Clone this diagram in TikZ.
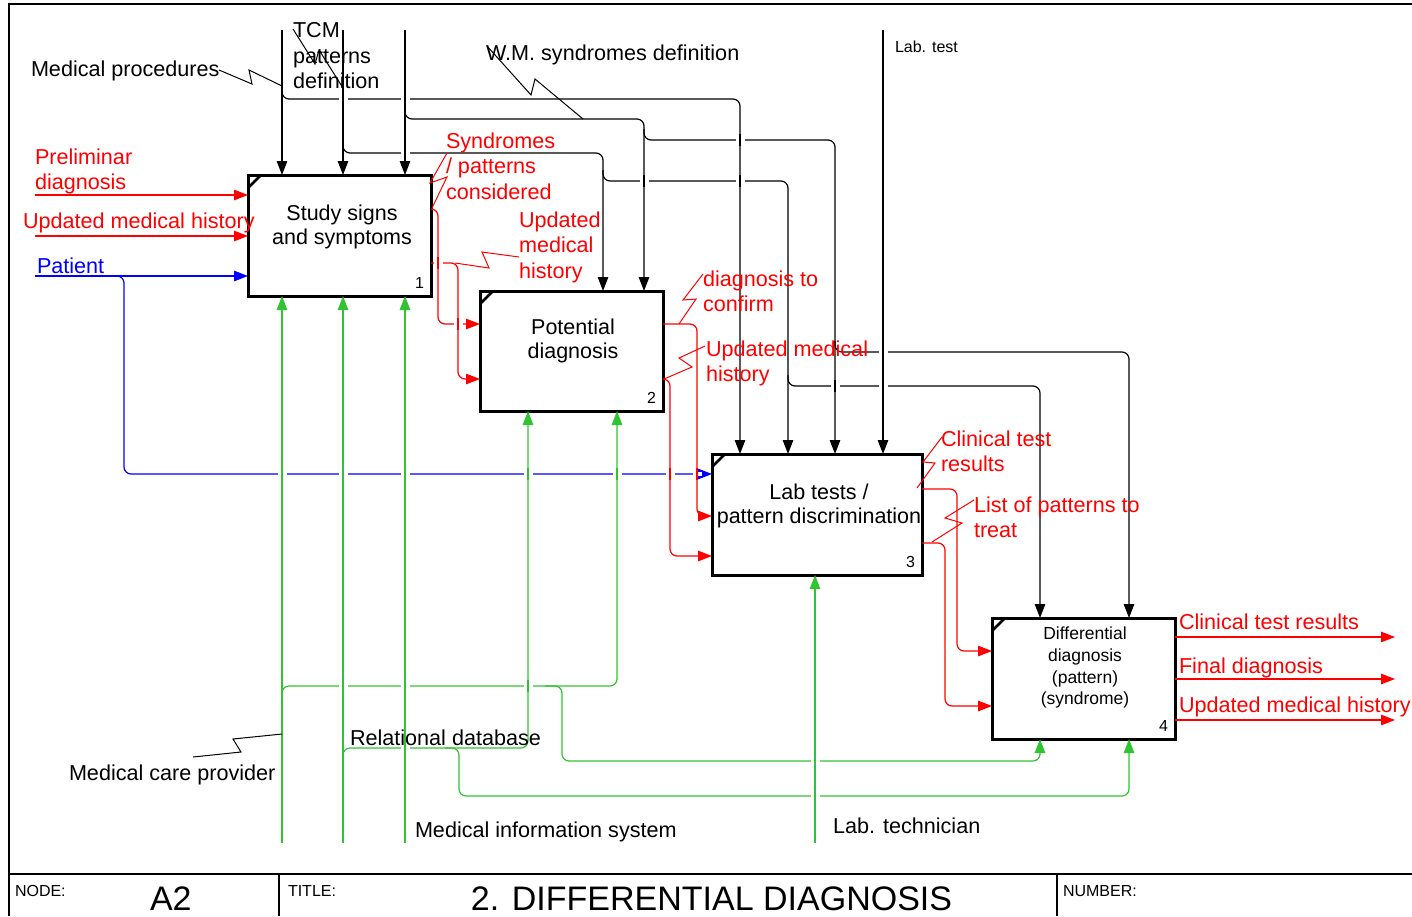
\documentclass[tikz,border=0pt]{standalone}
\usepackage{fontspec}
\setmainfont{Liberation Sans}
\usetikzlibrary{arrows.meta}
\definecolor{ired}{RGB}{255,0,0}
\definecolor{iblue}{RGB}{0,0,255}
\definecolor{igreen}{RGB}{50,195,50}
\newcommand\xgap[3]{%
  \fill[white] ({#1-4.5},{#2-2.4}) rectangle ({#1+4.5},{#2+2.4});
  \draw[#3,line width=1.2pt] (#1,{#2-6}) -- (#1,{#2+6});}
\begin{document}
\begin{tikzpicture}[x=1pt,y=-1pt,
  every node/.style={inner sep=0pt,outer sep=0pt},
  box/.style={draw,line width=3pt,anchor=north west,minimum height=121pt},
  tick/.style={line width=2.6pt},
  num/.style={anchor=base east,font=\fontsize{16}{16}\selectfont},
  boxtxt/.style={anchor=north,align=center,font=\fontsize{21.5}{24}\selectfont},
  lbl/.style={anchor=base west,font=\fontsize{21.6}{25.5}\selectfont},
  mlbl/.style={anchor=north west,align=left,font=\fontsize{21.6}{25.5}\selectfont},
  small/.style={anchor=base west,font=\fontsize{16}{16}\selectfont},
  big/.style={font=\fontsize{34}{34}\selectfont},
  conn/.style={line width=1.2pt,rounded corners=7pt,-{Triangle[length=14pt,width=10.5pt]}},
  ctrl/.style={conn,draw=black},
  flow/.style={conn,draw=ired},
  mech/.style={conn,draw=igreen},
  pat/.style={conn,draw=iblue},
  lead/.style={line width=1pt},
  frame/.style={line width=1.5pt}
]
\useasboundingbox (0,0) rectangle (1412,916);

% frame and title band
\draw[frame] (1412,4) -- (9,4) -- (9,916);
\draw[frame] (9,874) -- (1412,874);
\draw[frame] (279,874) -- (279,916);
\draw[frame] (1057,874) -- (1057,916);
\node[small] (tnode) at (15,896) {NODE:};
\node[big,anchor=base west] (tA2) at (150,910) {A2};
\node[small] (ttitle) at (288,896) {TITLE:};
\node[big,anchor=base] (tname) at (711.5,910) {2. DIFFERENTIAL DIAGNOSIS};
\node[small] (tnum) at (1063,896) {NUMBER:};

% boxes
\node[box,minimum width=183pt] (b1) at (248,175) {};
\node[box,minimum width=183pt,minimum height=120pt] (b2) at (480,291) {};
\node[box,minimum width=210pt] (b3) at (712,454) {};
\node[box,minimum width=183pt] (b4) at (992,618) {};
\foreach \b in {b1,b2,b3,b4}
  \draw[tick] ([yshift=-13pt]\b.north west) -- ([xshift=13pt]\b.north west);
\node[num] (n1) at ([xshift=-7pt,yshift=8pt]b1.south east) {1};
\node[num] (n2) at ([xshift=-7pt,yshift=8pt]b2.south east) {2};
\node[num] (n3) at ([xshift=-7pt,yshift=8pt]b3.south east) {3};
\node[num] (n4) at ([xshift=-7pt,yshift=8pt]b4.south east) {4};
\node[boxtxt] (b1t) at (342,204.5) {Study signs\\and symptoms};
\node[boxtxt] (b2t) at (573,318.5) {Potential\\diagnosis};
\node[boxtxt] (b3t) at (819,483.5) {Lab tests /\\pattern discrimination};
\node[boxtxt,font=\fontsize{17.5}{21.7}\selectfont] (b4t) at (1085,627) {Differential\\diagnosis\\(pattern)\\(syndrome)};

% column coordinates
\path (282,30) coordinate (tMP) (343,30) coordinate (tTCM) (405,30) coordinate (tWM) (883,30) coordinate (tLab)
      (282,843) coordinate (gMC) (343,843) coordinate (gRD) (405,843) coordinate (gMIS) (815,843) coordinate (gLT)
      (35,195) coordinate (iPD) (35,236) coordinate (iUMH) (35,276) coordinate (iPat)
      (528,0) coordinate (x528) (603,0) coordinate (x603) (617,0) coordinate (x617) (644,0) coordinate (x644)
      (740,0) coordinate (x740) (788,0) coordinate (x788) (835,0) coordinate (x835)
      (1040,0) coordinate (x1040) (1129,0) coordinate (x1129)
      (1395,0) coordinate (xout);

% controls (black)
\draw[ctrl] (tMP) -- (tMP |- b1.north);
\draw[ctrl] (tTCM) -- (tTCM |- b1.north);
\draw[ctrl] (tWM) -- (tWM |- b1.north);
\draw[ctrl] (tLab) -- (tLab |- b3.north);
\draw[ctrl] (282,85) -- (282,99) -- (740,99) -- (x740 |- b3.north);
\draw[ctrl] (343,143) -- (343,153) -- (603,153) -- (x603 |- b2.north);
\draw[ctrl] (603,170) -- (603,181) -- (788,181) -- (x788 |- b3.north);
\draw[ctrl] (788,375) -- (788,386) -- (1040,386) -- (x1040 |- b4.north);
\draw[ctrl] (405,108) -- (405,119) -- (644,119) -- (x644 |- b2.north);
\draw[ctrl] (644,129) -- (644,140) -- (835,140) -- (x835 |- b3.north);
\draw[ctrl] (835,341) -- (835,352) -- (1129,352) -- (x1129 |- b4.north);

% inputs
\draw[flow] (iPD) -- (iPD -| b1.west);
\draw[flow] (iUMH) -- (iUMH -| b1.west);
\draw[pat] (iPat) -- (iPat -| b1.west);
\draw[pat] (110,276) -- (124,276) -- (124,474) -- ([yshift=-20pt]b3.north west);

% internal flows
\draw[flow] ([yshift=-34pt]b1.north east) -- (438,209) -- (438,324) -- ([yshift=-33pt]b2.north west);
\draw[flow] ([yshift=-88pt]b1.north east) -- (458,263) -- (458,379) -- ([yshift=-88pt]b2.north west);
\draw[flow] ([yshift=-33pt]b2.north east) -- (697,324) -- (697,516) -- ([yshift=-62pt]b3.north west);
\draw[flow] ([yshift=-88pt]b2.north east) -- (670,379) -- (670,556) -- ([yshift=-102pt]b3.north west);
\draw[flow] ([yshift=-35pt]b3.north east) -- (957,489) -- (957,651) -- ([yshift=-33pt]b4.north west);
\draw[flow] ([yshift=-89pt]b3.north east) -- (945,543) -- (945,706) -- ([yshift=-88pt]b4.north west);

% outputs
\draw[flow] ([yshift=-19pt]b4.north east) -- ([yshift=-19pt]b4.north east -| xout);
\draw[flow] ([yshift=-61pt]b4.north east) -- ([yshift=-61pt]b4.north east -| xout);
\draw[flow] ([yshift=-102pt]b4.north east) -- ([yshift=-102pt]b4.north east -| xout);

% mechanisms (green)
\draw[mech] (gMC) -- (gMC |- b1.south);
\draw[mech] (gRD) -- (gRD |- b1.south);
\draw[mech] (gMIS) -- (gMIS |- b1.south);
\draw[mech] (gLT) -- (gLT |- b3.south);
\draw[mech] (282,700) -- (282,686) -- (617,686) -- (x617 |- b2.south);
\draw[mech] (545,686) -- (562,686) -- (562,761) -- (1040,761) -- (x1040 |- b4.south);
\draw[mech] (343,760) -- (343,748) -- (528,748) -- (x528 |- b2.south);
\draw[mech] (445,748) -- (459,748) -- (459,796) -- (1129,796) -- (x1129 |- b4.south);

% crossing gaps
\xgap{343}{99}{black}\xgap{405}{99}{black}\xgap{740}{140}{black}\xgap{405}{153}{black}
\xgap{644}{181}{black}\xgap{740}{181}{black}\xgap{883}{352}{black}\xgap{835}{386}{black}\xgap{883}{386}{black}
\xgap{438}{263}{ired}\xgap{458}{324}{ired}
\xgap{282}{474}{igreen}\xgap{343}{474}{igreen}\xgap{405}{474}{igreen}\xgap{528}{474}{igreen}\xgap{617}{474}{igreen}
\xgap{670}{474}{ired}\xgap{697}{474}{ired}
\xgap{343}{686}{igreen}\xgap{405}{686}{igreen}\xgap{528}{686}{igreen}\xgap{405}{748}{igreen}
\xgap{815}{761}{igreen}\xgap{815}{796}{igreen}

% leaders
\draw[lead] (219,70) -- (252,84) -- (249,70) -- (282,86);
\draw[lead] (293,29) -- (315,64) -- (319,50) -- (343,88);
\draw[lead] (487,46) -- (531,95) -- (535,79) -- (583,119);
\draw[lead] (193,757) -- (241,752) -- (233,739) -- (282,734);
\draw[lead,ired] (447,153) -- (430,183) -- (447,177) -- (432,208);
\draw[lead,ired] (519,257) -- (482,252) -- (489,268) -- (455,263);
\draw[lead,ired] (703,274) -- (683,300) -- (696,299) -- (679,324);
\draw[lead,ired] (705,346) -- (679,358) -- (692,367) -- (664,379);
\draw[lead,ired] (942,437) -- (923,462) -- (935,463) -- (917,488);
\draw[lead,ired] (974,500) -- (945,518) -- (962,523) -- (932,542);

% labels
\node[lbl] (lMP) at (31,76) {Medical procedures};
\node[mlbl] (lTCM) at (293,22.5) {TCM\\patterns\\definition};
\node[lbl] (lWM) at (486,60) {W.M. syndromes definition};
\node[small] (lLab) at (895,52) {Lab. test};
\node[mlbl,text=ired] (lPD) at (35,148.5) {Preliminar\\diagnosis};
\node[lbl,text=ired] (lUMH) at (23,228) {Updated medical history};
\node[lbl,text=iblue] (lPat) at (37,273) {Patient};
\node[mlbl,text=ired] (lSP) at (446,132.5) {Syndromes\\/ patterns\\considered};
\node[mlbl,text=ired] (lU1) at (519,211.5) {Updated\\medical\\history};
\node[mlbl,text=ired] (lDC) at (703,270.5) {diagnosis to\\confirm};
\node[mlbl,text=ired] (lU2) at (706,340.5) {Updated medical\\history};
\node[mlbl,text=ired] (lCT) at (941,430.5) {Clinical test\\results};
\node[mlbl,text=ired] (lLP) at (974,496.5) {List of patterns to\\treat};
\node[lbl,text=ired] (oCT) at (1179,629) {Clinical test results};
\node[lbl,text=ired] (oFD) at (1179,673) {Final diagnosis};
\node[lbl,text=ired] (oUM) at (1179,712) {Updated medical history};
\node[lbl] (lMC) at (69,780) {Medical care provider};
\node[lbl] (lRD) at (350,745) {Relational database};
\node[lbl] (lMIS) at (415,837) {Medical information system};
\node[lbl] (lLT) at (833,833) {Lab. technician};
\end{tikzpicture}
\end{document}
